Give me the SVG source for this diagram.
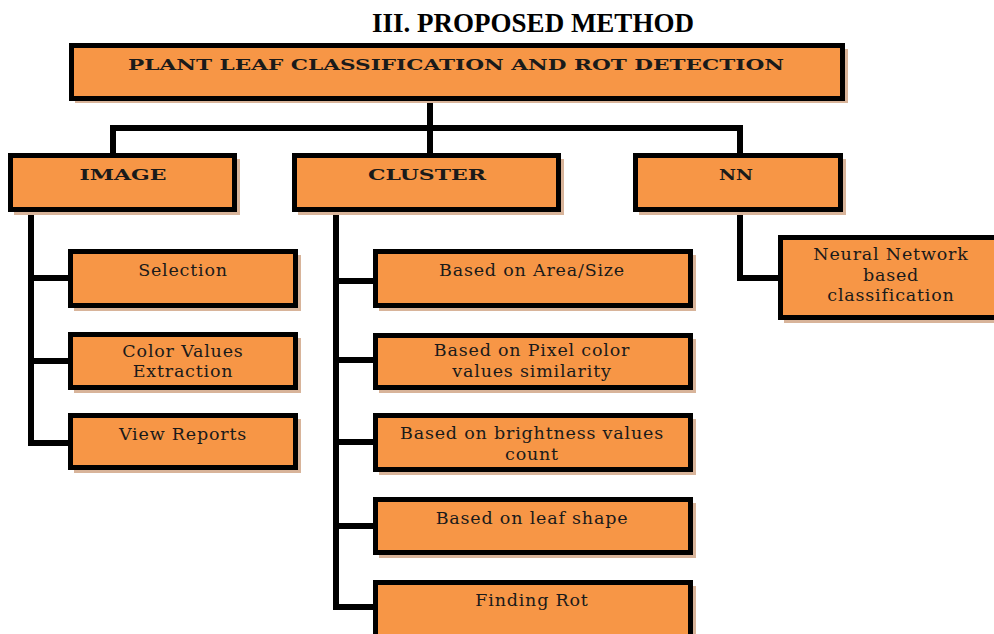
<svg xmlns="http://www.w3.org/2000/svg" width="994" height="634" viewBox="0 0 994 634">
<style>
.box{fill:#F79646;stroke:#000;stroke-width:5}
.sh{fill:#d8b49a}
.h{font-family:"DejaVu Serif","Liberation Serif",serif;font-weight:bold;font-size:15.5px;fill:#1a1a1a;text-anchor:middle}
.t{font-family:"DejaVu Serif","Liberation Serif",serif;font-size:17.5px;letter-spacing:0.8px;fill:#1a1a1a;text-anchor:middle}
.title{font-family:"Liberation Serif",serif;font-weight:bold;font-size:27px;fill:#000;text-anchor:middle}
.c{fill:none;stroke:#000;stroke-width:6;stroke-linejoin:miter;stroke-linecap:butt}
</style>
<rect width="994" height="634" fill="#fff"/>
<text class="title" x="533" y="32">III.  PROPOSED METHOD</text>
<g id="connectors">
<path class="c" d="M113,153 V128 H740 V155"/>
<path class="c" d="M430,101 V153"/>
<path class="c" d="M31,212 V443 H70"/>
<path class="c" d="M31,278 H70 M31,361 H70"/>
<path class="c" d="M336,212 V607 H375"/>
<path class="c" d="M336,281 H375 M336,360 H375 M336,442 H375 M336,526 H375"/>
<path class="c" d="M740,213 V278 H780"/>
</g>
<g id="root">
<rect class="sh" x="75" y="49" width="773" height="54"/>
<rect class="box" x="71.5" y="45.5" width="771" height="53"/>
<text class="h" x="456" y="70" textLength="656" lengthAdjust="spacingAndGlyphs">PLANT LEAF CLASSIFICATION AND ROT DETECTION</text>
</g>
<g id="image">
<rect class="sh" x="14" y="159" width="226" height="56"/>
<rect class="box" x="10.5" y="155.5" width="224" height="54"/>
<text class="h" x="123" y="180" textLength="87" lengthAdjust="spacingAndGlyphs">IMAGE</text>
</g>
<g id="cluster">
<rect class="sh" x="298" y="159" width="266" height="56"/>
<rect class="box" x="294.5" y="155.5" width="264" height="54"/>
<text class="h" x="427" y="180" textLength="118" lengthAdjust="spacingAndGlyphs">CLUSTER</text>
</g>
<g id="nn">
<rect class="sh" x="639" y="159" width="207" height="56"/>
<rect class="box" x="635.5" y="155.5" width="205" height="54"/>
<text class="h" x="736" y="180" textLength="34" lengthAdjust="spacingAndGlyphs">NN</text>
</g>
<g id="selection">
<rect class="sh" x="74" y="255" width="227" height="56"/>
<rect class="box" x="70.5" y="251.5" width="225" height="54"/>
<text class="t" x="183" y="276">Selection</text>
</g>
<g id="color-values">
<rect class="sh" x="74" y="338" width="227" height="55"/>
<rect class="box" x="70.5" y="334.5" width="225" height="53"/>
<text class="t" x="183" y="357">Color Values</text>
<text class="t" x="183" y="377">Extraction</text>
</g>
<g id="view-reports">
<rect class="sh" x="74" y="419" width="227" height="54"/>
<rect class="box" x="70.5" y="415.5" width="225" height="52"/>
<text class="t" x="183" y="440">View Reports</text>
</g>
<g id="area-size">
<rect class="sh" x="379" y="255" width="317" height="56"/>
<rect class="box" x="375.5" y="251.5" width="315" height="54"/>
<text class="t" x="532" y="276">Based on Area/Size</text>
</g>
<g id="pixel-color">
<rect class="sh" x="379" y="339" width="317" height="54"/>
<rect class="box" x="375.5" y="335.5" width="315" height="52"/>
<text class="t" x="532" y="356">Based on Pixel color</text>
<text class="t" x="532" y="377">values similarity</text>
</g>
<g id="brightness">
<rect class="sh" x="379" y="419" width="317" height="56"/>
<rect class="box" x="375.5" y="415.5" width="315" height="54"/>
<text class="t" x="532" y="439">Based on brightness values</text>
<text class="t" x="532" y="460">count</text>
</g>
<g id="leaf-shape">
<rect class="sh" x="379" y="503" width="317" height="55"/>
<rect class="box" x="375.5" y="499.5" width="315" height="53"/>
<text class="t" x="532" y="524">Based on leaf shape</text>
</g>
<g id="finding-rot">
<rect class="sh" x="379" y="586" width="317" height="62"/>
<rect class="box" x="375.5" y="582.5" width="315" height="60"/>
<text class="t" x="532" y="606">Finding  Rot</text>
</g>
<g id="nn-classification">
<rect class="box" x="780.5" y="237.5" width="220" height="80"/>
<rect class="sh" x="784" y="320" width="220" height="3"/>
<text class="t" x="891" y="260">Neural Network</text>
<text class="t" x="891" y="281">based</text>
<text class="t" x="891" y="301">classification</text>
</g>
</svg>
